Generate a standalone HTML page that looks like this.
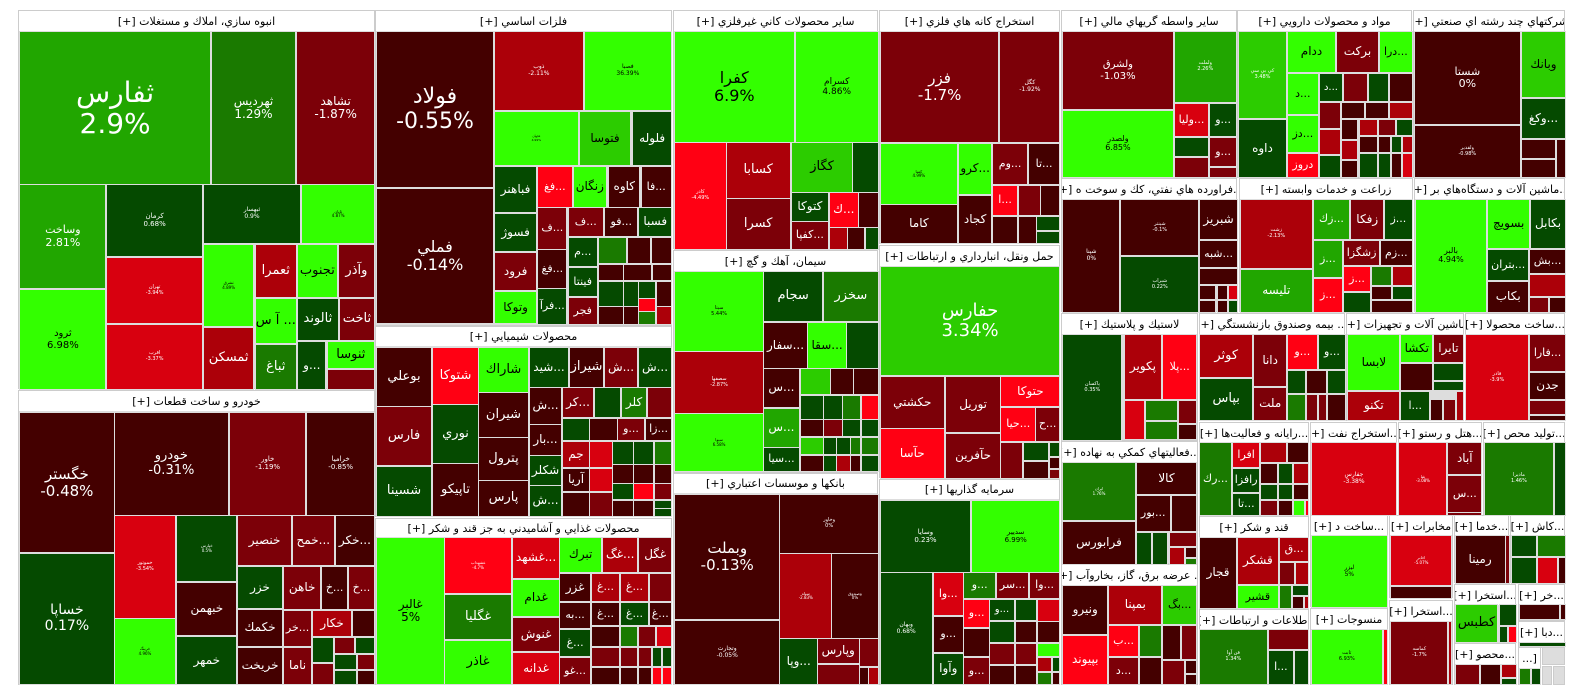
<!DOCTYPE html>
<html><head><meta charset="utf-8">
<style>
html,body{margin:0;padding:0;background:#fff;width:1584px;height:698px;overflow:hidden}
#r{position:relative;width:1584px;height:698px;font-family:"DejaVu Sans","Liberation Sans",sans-serif}
.s{position:absolute;background:#ddd;border:1px solid #ccc;box-sizing:border-box}
.h{position:absolute;background:#fff;color:#000;font-size:11px;display:flex;align-items:center;justify-content:center;white-space:nowrap;overflow:hidden;direction:rtl}
.t{position:absolute;box-sizing:border-box;border:1px solid #ddd;display:flex;align-items:center;justify-content:center;text-align:center;overflow:hidden;white-space:nowrap;line-height:1.12;direction:rtl}
.t>div{display:block}
.t>div>div{display:block}
</style></head><body><div id="r"></div>
<script>
var R=document.getElementById('r');
var C={D:'#440000',M:'#7c0008',R:'#ac0009',B:'#d8000f',F:'#ff0013',G:'#33ff00',L:'#2ccc00',N:'#21a600',K:'#1a7a00',E:'#054a00',W:'#ffffff'};
var MODE='I';
function X(v){if(MODE=='A')return v*1.014;if(MODE=='B')return 530+(v-530)*1.014;if(MODE=='C')return 1050+(v-1050)*1.0217;return v;}
function H(x1,y1,x2,y2,title,hh){hh=hh||21;var d=document.createElement('div');d.className='s';d.style.cssText='left:'+x1+'px;top:'+y1+'px;width:'+(x2-x1+1)+'px;height:'+(y2-y1+1)+'px';R.appendChild(d);
if(title){var h=document.createElement('div');h.className='h';h.style.cssText='left:'+(x1+1)+'px;top:'+(y1+1)+'px;width:'+(x2-x1-1)+'px;height:'+(hh-1)+'px';h.textContent=title;R.appendChild(h);}}
function t(x1,y1,x2,y2,c,label,fs,tc){var a=X(x1),b=X(x2);var d=document.createElement('div');d.className='t';
d.style.left=a+'px';d.style.top=y1+'px';d.style.width=(b-a+2)+'px';d.style.height=(y2-y1+2)+'px';d.style.background=C[c];
d.style.color=tc||((c=='G'||c=='L')?'#000':'#fff');d.style.fontSize=(fs||12)+'px';
if(label){var p=label.split('|');d.innerHTML='<div>'+p.map(function(s){return /%/.test(s)?'<div dir="ltr">'+s+'</div>':'<div>'+s+'</div>';}).join('')+'</div>';}R.appendChild(d);}
MODE='I';
H(18,10,374,388,'انبوه سازي، املاك و مستغلات [+]');
H(18,390,374,684,'خودرو و ساخت قطعات [+]');
H(375,10,671,325,'فلزات اساسي [+]');
H(375,326,671,516,'محصولات شيميايي [+]',20);
H(375,518,671,684,'محصولات غذايي و آشاميدني به جز قند و شكر [+]',19);
H(673,10,877,248,'ساير محصولات كاني غيرفلزي [+]');
H(673,250,877,472,'سيمان، آهك و گچ [+]');
H(673,473,877,684,'بانكها و موسسات اعتباري [+]',20);
H(879,10,1059,243,'استخراج كانه هاي فلزي [+]');
H(879,245,1059,477,'حمل ونقل، انبارداري و ارتباطات [+]');
H(879,479,1059,684,'سرمايه گذاريها [+]',20);
H(1061,10,1236,177,'ساير واسطه گريهاي مالي [+]');
H(1237,10,1411,177,'مواد و محصولات دارويي [+]');
H(1413,10,1564,177,'شركتهاي چند رشته اي صنعتي [+]');
H(1061,178,1236,311,'...فراورده هاي نفتي، كك و سوخت ه [+]');
H(1239,178,1412,311,'زراعت و خدمات وابسته [+]');
H(1414,178,1564,311,'...ماشين آلات و دستگاه‌هاي بر [+]');
H(1061,313,1197,440,'لاستيك و پلاستيك [+]');
H(1199,313,1344,420,'... بيمه وصندوق بازنشستگي [+]');
H(1346,313,1463,420,'ماشين آلات و تجهيزات [+]');
H(1465,313,1564,420,'...ساخت محصولا [+]');
H(1061,441,1197,563,'...فعاليتهاي كمكي به نهاده [+]');
H(1061,564,1197,684,'... عرضه برق، گاز، بخاروآب [+]');
H(1199,422,1308,514,'...رايانه و فعاليت‌ها [+]');
H(1310,422,1396,514,'...استخراج نفت [+]');
H(1398,422,1481,514,'...هتل و رستو [+]');
H(1483,422,1564,514,'...توليد محص [+]');
H(1199,516,1308,607,'قند و شكر [+]');
H(1199,609,1308,684,'اطلاعات و ارتباطات [+]');
H(1310,515,1387,606,'...ساخت د [+]');
H(1310,608,1387,684,'منسوجات [+]');
H(1389,515,1452,597,'مخابرات [+]');
H(1389,600,1452,684,'...استخرا [+]');
H(1454,515,1508,582,'...خدما [+]');
H(1510,515,1564,582,'...كاش [+]');
H(1454,584,1515,643,'...استخرا [+]');
H(1518,584,1564,620,'...خر [+]');
H(1518,621,1564,647,'...دبا [+]');
H(1454,643,1515,684,'...محصو [+]');
H(1518,647,1540,684,'[...');
H(1542,647,1564,664,'');H(1542,666,1551,684,'');H(1553,666,1564,684,'');
MODE='A';
t(19,31,206,183,'N','ثفارس|2.9%',28);
t(208,31,290,183,'K','ثهرديس|1.29%',12);
t(292,31,368,183,'M','تشاهد|-1.87%',12);
t(19,184,103,287,'N','وساخت|2.81%',11);
t(19,289,103,388,'G','ثرود|6.98%',10);
t(105,184,198,255,'E','كرمان|0.68%',7);
t(105,257,198,322,'B','تهران|-3.94%',5);
t(105,324,198,388,'B','اقرب|-3.37%',5);
t(200,184,295,242,'E','ثبهسار|0.9%',6);
t(297,184,368,242,'G','ثابان|4.87%',4);
t(200,244,249,325,'G','ثشرق|4.89%',4);
t(200,327,249,388,'R','ثمسكن',13);
t(251,244,291,296,'R','ثعمرا',13);
t(293,244,331,296,'G','تجنوب',13);
t(333,244,368,296,'M','وآذر',13);
t(251,298,291,342,'G','... آ س',13);
t(293,298,332,339,'E','ثالوند',13);
t(334,298,368,339,'M','ثاخت',13);
t(251,344,291,388,'K','ثباغ',13);
t(293,341,320,388,'E','...و',12);
t(322,341,368,367,'G','ثنوسا',13);
t(322,369,368,388,'M','');
t(19,412,111,551,'D','خگستر|-0.48%',15);
t(19,553,111,683,'E','خساپا|0.17%',14);
t(112,412,224,514,'D','خودرو|-0.31%',13);
t(226,412,300,514,'M','خاور|-1.19%',7);
t(302,412,368,514,'D','خراميا|-0.85%',7);
t(112,515,172,617,'B','خموتور|-3.54%',5);
t(112,618,172,683,'G','خرينگ|4.96%',4);
t(174,515,232,580,'E','خپارس|0.5%',4);
t(174,582,232,634,'D','خبهمن',12);
t(174,636,232,683,'E','خمهر',12);
t(234,515,286,564,'M','خنصير',12);
t(288,515,328,564,'M','...خمح',12);
t(330,515,368,564,'D','...خكر',12);
t(234,566,277,607,'E','خزر',12);
t(279,566,315,608,'M','خاهن',12);
t(317,566,341,608,'D','...خ',11);
t(343,566,368,608,'M','...خ',11);
t(234,609,277,645,'D','خكمك',12);
t(279,610,306,645,'M','...خر',11);
t(308,610,345,635,'R','خكار',12);
t(347,610,368,635,'D','');
t(234,647,277,683,'D','خريخت',12);
t(279,647,306,683,'M','ناما',12);
t(308,637,327,661,'E','');t(329,637,348,652,'M','');t(350,637,368,652,'E','');
t(308,663,327,683,'M','');t(329,654,350,668,'E','');t(352,654,368,668,'M','');
t(329,670,350,683,'E','');t(352,670,368,683,'D','');
t(371,31,485,186,'D','فولاد|-0.55%',22);
t(371,188,485,322,'D','فملي|-0.14%',16);
t(487,166,528,211,'E','فباهنر',12);
t(487,213,528,250,'E','فسوژ',12);
t(487,252,528,289,'M','فرود',12);
t(487,291,528,322,'G','وتوكا',12);
MODE='B';
t(494.5,31,581,109,'R','ذوب|-2.11%',6);
t(583,31,668,109,'G','فصبا|36.39%',6);
t(494.5,111,576,164,'G','فجهان|4.99%',3);
t(578,111,628,164,'L','فتوسا',12);
t(631,111,668,164,'E','فلوله',12);
t(537,166,570,206,'F','...فغ',11);
t(572,166,604,206,'G','زنگان',12);
t(607,166,637,206,'D','كاوه',12);
t(639,166,668,206,'D','...فا',11);
t(537,207,565,248,'M','...ف',11);
t(567,207,601,235,'M','...ف',11);
t(603,207,635,235,'D','...فو',11);
t(637,207,668,235,'E','فسبا',12);
t(537,249,565,287,'D','...فغ',11);
t(537,288,565,323,'E','...فرآ',11);
t(567,237,595,265,'E','...م',11);
t(567,267,595,295,'E','فينتا',11);
t(567,297,595,323,'M','فجر',11);
t(597,237,624,262,'K','');t(626,237,647,262,'D','');t(649,237,668,262,'D','');
t(597,264,621,279,'D','');t(622,264,648,279,'D','');t(650,264,668,279,'D','');
t(597,281,621,305,'E','');t(622,281,636,305,'E','');t(637,281,652,297,'E','');t(654,281,668,305,'D','');
t(637,298,652,310,'F','');
t(597,306,621,323,'D','');t(622,306,636,323,'D','');t(637,311,652,323,'K','');t(654,306,668,323,'R','');
MODE='I';
t(376,347,430,405,'D','بوعلي',13);
t(376,406,430,464,'M','فارس',13);
t(376,466,430,515,'E','شسينا',13);
t(432,347,477,403,'F','شتوكا',13);
t(432,404,477,462,'E','نوري',13);
t(432,463,477,515,'D','تاپيكو',13);
t(478,347,527,391,'G','شاراك',13);
t(478,392,527,436,'D','شيران',13);
t(478,437,527,479,'D','پترول',13);
t(478,480,527,515,'D','پارس',13);
t(529,347,567,386,'E','...شيد',12);
t(569,347,602,386,'D','شيراز',13);
t(604,347,636,386,'M','...ش',12);
t(638,347,670,386,'E','...ش',12);
t(529,387,560,423,'D','...ش',12);
t(529,424,560,454,'D','...بار',12);
t(529,455,560,484,'E','شكلر',12);
t(529,485,560,515,'E','...ش',12);
t(562,387,592,416,'M','...كر',12);
t(594,387,619,416,'E','');
t(621,387,645,416,'K','كلر',12);
t(647,387,670,416,'M','');
t(562,418,588,439,'E','');t(589,418,616,439,'D','');
t(617,418,643,439,'M','...و',11);t(645,418,670,439,'D','...زا',11);
t(562,441,588,466,'R','جم',12);t(562,468,588,490,'D','آريا',12);t(562,492,588,515,'D','');
t(589,441,611,466,'B','');t(589,468,611,490,'B','');t(589,492,611,515,'M','');
t(612,441,632,463,'E','');t(633,441,652,463,'E','');t(654,441,670,463,'K','');
t(612,464,632,482,'D','');t(633,464,652,482,'D','');t(654,464,670,482,'D','');
t(612,483,632,498,'E','');t(633,483,652,498,'F','');t(654,483,670,498,'M','');
t(612,500,632,515,'D','');t(633,500,652,515,'D','');t(654,500,670,507,'E','');t(654,508,670,515,'E','');
MODE='A';
t(371,537,437,683,'G','غالبر|5%',12);
t(438,537,503,592,'F','غشهداب|-4.7%',4);
t(438,594,503,638,'K','غگليا',13);
t(438,640,503,683,'G','غاذر',13);
MODE='B';
t(512,537,558,577,'B','...غشهد',12);
t(512,579,558,615,'G','غدام',12);
t(512,617,558,650,'M','غنوش',12);
t(512,652,558,683,'B','غدانه',12);
t(559,537,599,571,'G','تبرك',12);
t(601,537,635,571,'R','...غگ',12);
t(637,537,668,571,'M','غگل',12);
t(559,573,588,600,'D','غزر',12);
t(590,573,617,600,'R','...غ',11);t(619,573,645,600,'R','...غ',11);t(647,573,668,600,'M','');
t(559,602,588,627,'D','...به',11);t(590,602,617,624,'D','...غ',11);t(619,602,645,624,'E','...غ',11);t(647,602,668,624,'D','...غ',11);
t(559,629,588,655,'E','...غ',11);t(590,626,617,645,'D','');t(619,626,635,645,'K','');t(637,626,652,645,'M','');t(654,626,668,645,'B','');
t(559,657,588,683,'M','...غو',11);t(590,647,617,665,'M','');t(619,647,635,665,'M','');t(637,647,648,665,'M','');t(650,647,658,665,'E','');t(660,647,668,665,'E','');
t(590,667,617,683,'D','');t(619,667,635,683,'D','');t(637,667,648,683,'D','');t(650,667,658,683,'F','');t(660,667,668,683,'F','');
t(672,31,789,141,'G','كفرا|6.9%',16);
t(791,31,872,141,'G','كسرام|4.86%',9);
t(672,142,722,248,'F','كاذر|-4.49%',5);
t(723,142,785,197,'R','كسابا',13);
t(723,198,785,248,'M','كسرا',13);
t(787,142,847,191,'L','كگاز',13);
t(848,142,872,191,'E','');
t(787,192,823,220,'E','كتوكا',12);
t(825,192,852,226,'F','...ك',12);
t(853,192,872,226,'D','');
t(787,221,823,248,'M','...كفپا',11);
t(825,227,842,248,'R','');t(843,227,858,248,'D','');t(860,227,872,248,'E','');
t(875,31,991,141,'M','فزر|-1.7%',15);
t(993,31,1051,141,'M','كگل|-1.92%',6);
t(875,143,950,203,'G','كمنا|4.99%',4);
t(952,143,984,193,'G','...كرو',12);
t(986,143,1019,183,'M','...وم',11);
t(1021,143,1051,183,'D','...تا',11);
t(986,185,1009,214,'F','...ا',11);t(1011,185,1032,214,'M','');t(1033,185,1051,214,'D','');
t(875,204,950,242,'D','كاما',12);
t(952,195,984,242,'D','كجاد',12);
t(986,216,1009,242,'D','');t(1011,216,1028,242,'D','');t(1029,216,1051,229,'E','');t(1029,231,1051,242,'E','');
t(875,266,1051,374,'L','حفارس|3.34%',18,'#fff');
t(875,376,937,427,'M','حكشتي',12);
t(939,376,993,431,'M','توريل',12);
t(994,376,1051,405,'F','حتوكا',12);
t(875,428,937,477,'F','حآسا',12);
t(939,433,993,477,'M','حآفرين',12);
t(994,407,1027,440,'F','...حيا',11);
t(1028,407,1051,440,'M','...ح',11);
t(994,442,1014,477,'M','');t(1016,442,1040,459,'E','');t(1042,442,1051,455,'E','');
t(1016,461,1040,477,'D','');t(1042,457,1051,467,'D','');t(1042,469,1051,477,'M','');
t(875,500,963,571,'E','وسايا|0.23%',7);
t(965,500,1051,571,'G','سديير|6.99%',7);
t(875,572,925,683,'E','وبهان|0.68%',6);
t(927,572,956,614,'B','...وا',11);
t(957,572,988,597,'K','...و',11);t(990,572,1020,597,'M','...سر',11);t(1022,572,1051,597,'M','...وا',11);
t(957,599,982,626,'F','...و',11);t(983,599,1006,619,'E','...و',10);t(1008,599,1028,619,'E','');t(1030,599,1051,620,'B','');
t(927,616,956,651,'D','...و',11);
t(957,628,982,655,'D','');t(983,621,1006,641,'E','');t(1008,621,1028,641,'D','');t(1030,621,1051,641,'D','');
t(927,653,956,683,'E','وآوا',12);
t(957,657,982,683,'M','...و',11);t(983,643,1006,663,'M','');t(1008,643,1028,663,'M','');t(1030,643,1051,655,'G','');
t(1030,657,1043,670,'R','');t(1045,657,1051,670,'E','');t(1030,672,1043,683,'K','');t(1045,672,1051,683,'D','');
t(983,665,1006,683,'D','');t(1008,665,1028,683,'D','');
t(672,271,759,350,'G','سيتا|5.44%',5);
t(672,351,759,412,'R','سصفها|-2.87%',5);
t(672,413,759,470,'G','سيوا|6.58%',4);
t(760,271,817,320,'E','سجام',13);
t(819,271,872,320,'K','سخزر',13);
t(760,322,802,367,'D','...سفار',12);
t(803,322,841,367,'G','...سقا',12);
t(842,322,872,367,'E','');
t(760,368,794,406,'D','...س',12);
t(760,408,794,446,'N','...س',12);
t(760,447,794,470,'E','...سيا',11);
t(796,368,825,393,'L','');t(826,368,848,393,'D','');t(849,368,872,393,'D','');
t(796,395,818,418,'E','');t(819,395,837,418,'E','');t(838,395,854,418,'K','');t(856,395,872,418,'F','');
t(796,419,818,435,'D','');t(819,419,837,435,'M','');t(838,419,854,435,'E','');t(856,419,872,435,'E','');
t(796,437,818,453,'L','');t(819,437,831,453,'E','');t(832,437,845,453,'E','');t(846,437,854,453,'K','');t(856,437,872,453,'K','');
t(796,455,818,470,'D','');t(819,455,831,470,'E','');t(832,455,845,470,'R','');t(846,455,854,470,'D','');t(856,455,872,470,'E','');
t(672,494,775,618,'D','وبملت|-0.13%',15);
t(672,620,775,683,'D','وتجارت|-0.05%',6);
t(776,494,872,552,'D','وخاور|0%',5);
t(776,553,826,637,'R','سپاه|-2.83%',4);
t(827,553,872,637,'D','وصندوق|0%',4);
t(776,638,812,683,'E','...وپا',12);
t(813,638,853,662,'M','وپارس',12);
t(854,638,872,665,'M','');t(813,664,853,683,'M','');t(854,667,862,683,'D','');t(863,667,872,683,'R','');
MODE='C';
t(1062,31,1169,108,'M','ولشرق|-1.03%',10);
t(1171,31,1231,101,'N','ولملت|2.26%',5);
t(1062,110,1169,176,'G','ولصدر|6.85%',8);
t(1171,103,1204,135,'B','...وليا',11);
t(1206,103,1231,135,'E','...و',11);
t(1171,137,1204,155,'E','');
t(1206,137,1231,165,'M','...و',11);
t(1171,157,1204,176,'M','');t(1206,167,1231,176,'M','');
t(1234,31,1280,117,'L','كي بي سي|3.48%',5,'#fff');
t(1234,119,1280,176,'E','داوه',12);
t(1282,31,1328,71,'G','ددام',12);
t(1330,31,1370,71,'M','بركت',12);
t(1372,31,1403,71,'G','...درا',11);
t(1282,73,1311,113,'G','...د',11);
t(1313,73,1335,100,'E','...د',10);
t(1337,73,1359,100,'M','');t(1361,73,1380,100,'E','');t(1382,73,1403,100,'D','');
t(1282,115,1311,151,'G','...دز',11);
t(1282,153,1311,176,'F','دروز',11);
t(1313,102,1333,127,'M','');t(1335,102,1356,117,'D','');t(1358,102,1380,117,'D','');t(1382,102,1403,117,'R','');
t(1313,129,1333,153,'R','');t(1335,119,1350,138,'D','');t(1352,119,1369,134,'R','');t(1371,119,1387,134,'M','');t(1389,119,1403,134,'E','');
t(1335,140,1350,158,'R','');t(1352,136,1369,151,'D','');t(1371,136,1382,151,'D','');t(1384,136,1393,151,'E','');t(1395,136,1403,151,'R','');
t(1313,155,1333,176,'E','');t(1335,160,1350,176,'D','');t(1352,153,1369,176,'E','');t(1371,153,1382,176,'E','');t(1384,153,1393,176,'D','');t(1395,153,1403,176,'B','');
t(1406,31,1509,123,'D','شستا|0%',11);
t(1511,31,1553,96,'L','وبانك',12);
t(1511,98,1553,137,'E','...وكغ',12);
t(1406,125,1509,176,'D','ولقدير|-0.98%',5);
t(1511,139,1543,157,'D','');t(1545,139,1553,176,'D','');t(1511,159,1543,176,'D','');
t(1062,199,1117,311,'D','شپنا|0%',6);
t(1119,199,1194,254,'D','شپنتر|-0.1%',5);
t(1119,256,1194,311,'E','شبراب|0.22%',5);
t(1196,199,1232,238,'D','شبريز',12);
t(1196,240,1232,266,'D','...شبه',11);
t(1196,268,1232,283,'D','');t(1196,285,1211,298,'D','');t(1213,285,1222,298,'D','');t(1224,285,1232,298,'B','');
t(1196,300,1211,311,'D','');t(1213,300,1222,311,'D','');t(1224,300,1232,311,'E','');
t(1236,199,1305,267,'R','زشت|-2.13%',5);
t(1236,269,1305,311,'N','تليسه',12);
t(1307,199,1342,238,'N','...زك',11);
t(1344,199,1375,238,'M','زفكا',12);
t(1377,199,1403,238,'E','...ز',11);
t(1307,240,1335,276,'N','...ز',11);
t(1337,240,1371,264,'M','زشگزا',11);
t(1373,240,1403,264,'D','...زم',11);
t(1337,266,1362,290,'F','...ز',11);t(1364,266,1383,284,'K','');t(1385,266,1403,284,'R','');
t(1307,278,1335,311,'F','...ز',11);
t(1337,292,1362,311,'E','');t(1364,286,1383,298,'D','');t(1385,286,1403,298,'E','');t(1364,300,1403,311,'D','');
t(1407,199,1476,311,'G','بالبر|4.94%',8);
t(1478,199,1518,247,'G','بسويچ',12);
t(1520,199,1553,247,'E','بكابل',12);
t(1478,249,1517,279,'E','...بتران',11);
t(1519,249,1553,272,'D','...بش',11);
t(1478,281,1517,311,'D','بكاب',12);
t(1519,274,1553,295,'R','');t(1519,297,1536,311,'M','');t(1538,297,1553,311,'D','');
t(1062,334,1119,439,'E','پاكسان|0.35%',5);
t(1122,334,1158,398,'R','پكوير',12);
t(1160,334,1192,398,'F','...پلا',11);
t(1122,400,1141,438,'B','');t(1143,400,1173,419,'K','');t(1143,421,1173,438,'K','');t(1175,400,1192,422,'M','');t(1175,424,1192,438,'D','');
t(1196,334,1247,376,'R','كوثر',13);
t(1196,378,1247,419,'E','بپاس',13);
t(1249,334,1280,385,'M','دانا',12);
t(1249,387,1280,419,'M','ملت',12);
t(1282,334,1310,368,'F','...و',11);
t(1312,334,1338,368,'E','...و',11);
t(1282,370,1299,392,'E','');t(1301,370,1319,392,'D','');t(1321,370,1338,392,'E','');
t(1282,394,1299,419,'K','');t(1301,394,1310,419,'M','');t(1312,394,1319,419,'M','');t(1321,394,1338,419,'D','');
t(1341,334,1391,389,'G','لابسا',12);
t(1393,334,1423,361,'G','تكشا',12);
t(1425,334,1453,361,'M','تايرا',12);
t(1341,391,1391,419,'R','تكنو',12);
t(1393,363,1423,389,'D','');t(1425,363,1453,379,'E','');t(1425,381,1453,389,'E','');
t(1393,391,1420,419,'E','...ا',11);t(1422,399,1433,419,'D','');t(1435,399,1445,419,'M','');t(1447,391,1453,419,'R','');
t(1456,334,1517,419,'B','فاذر|-3.9%',5);
t(1519,334,1553,370,'M','...فارا',11);
t(1519,372,1553,398,'D','جدن',12);
t(1519,400,1553,413,'M','');t(1519,415,1553,419,'D','');
t(1062,462,1132,519,'K','ايران|1.76%',4);
t(1134,462,1192,493,'D','كالا',12);
t(1134,495,1166,530,'D','...بور',11);
t(1168,495,1192,530,'D','');
t(1062,521,1132,563,'D','فرابورس',12);
t(1134,532,1148,563,'E','');t(1150,532,1164,563,'E','');t(1166,532,1192,545,'M','');
t(1166,547,1180,563,'R','');t(1182,547,1192,556,'D','');t(1182,558,1192,563,'K','');
t(1062,585,1105,633,'D','ونيرو',12);
t(1062,635,1105,683,'F','بپيوند',12);
t(1107,585,1158,623,'R','بمپنا',12);
t(1160,585,1192,623,'L','...بگ',11);
t(1107,625,1135,655,'F','...ب',11);
t(1137,625,1158,655,'K','');
t(1107,657,1135,683,'M','...د',11);
t(1137,657,1158,683,'D','');
t(1160,625,1176,658,'D','');t(1178,625,1192,658,'M','');t(1160,660,1180,683,'M','');t(1182,660,1192,672,'D','');t(1182,674,1192,683,'D','');
t(1196,442,1226,514,'K','...رك',11);
t(1228,442,1254,466,'B','افرا',11);
t(1228,468,1254,491,'E','رافزا',11);
t(1228,493,1254,514,'E','...تا',11);
t(1256,442,1280,461,'R','');t(1282,442,1302,461,'D','');
t(1256,463,1271,482,'D','');t(1273,463,1286,482,'E','');t(1288,463,1302,482,'R','');
t(1256,484,1271,498,'E','');t(1273,484,1286,498,'E','');t(1288,484,1302,498,'D','');
t(1256,500,1271,514,'M','');t(1273,500,1286,514,'D','');t(1288,500,1298,514,'G','');t(1300,500,1302,514,'F','');
t(1305,442,1388,514,'B','جفارس|-3.38%',6);
t(1391,442,1437,514,'B','غنا|-3.08%',4);
t(1439,442,1471,473,'M','آباد',12);
t(1439,475,1471,511,'M','...س',11);
t(1439,512,1471,514,'M','');
t(1475,442,1541,514,'K','ماديرا|1.46%',5);
t(1543,442,1553,514,'E','');
t(1196,537,1231,607,'D','قجار',12);
t(1233,537,1272,583,'R','قشكر',12);
t(1274,537,1302,560,'R','...ق',11);
t(1233,585,1272,607,'G','قشير',11);
t(1274,562,1288,583,'M','');t(1290,562,1302,583,'R','');
t(1274,585,1285,607,'K','');t(1287,585,1302,594,'E','');t(1287,596,1297,607,'D','');t(1299,596,1302,607,'R','');
t(1196,629,1261,683,'K','فن آوا|1.34%',5);
t(1263,629,1302,648,'M','');
t(1263,650,1287,683,'E','...ا',11);t(1289,650,1302,683,'E','');
t(1305,535,1379,606,'G','ليزر|5%',6);
t(1305,629,1374,683,'G','ثابت|6.93%',5);
t(1376,629,1379,683,'F','');
t(1383,535,1442,584,'B','اخابر|-5.07%',4);
t(1383,586,1442,597,'D','');
t(1383,621,1438,683,'M','كماسه|-1.7%',5);
t(1440,621,1442,683,'R','');
t(1446,535,1494,582,'D','رمينا',12);
t(1495,535,1498,582,'M','');
t(1501,535,1525,555,'E','');t(1527,535,1553,555,'K','');
t(1501,557,1525,582,'E','');t(1527,557,1545,582,'B','');t(1547,557,1553,582,'D','');
t(1446,604,1487,641,'L','كطبس',13);
t(1489,604,1505,624,'E','');t(1489,626,1496,641,'E','');t(1498,626,1505,641,'F','');
t(1509,604,1547,618,'D','');t(1549,604,1553,618,'D','');
t(1509,642,1553,645,'E','');
t(1446,664,1469,683,'M','');t(1471,664,1489,683,'D','');t(1491,664,1505,676,'R','');t(1491,678,1505,683,'E','');
t(1509,668,1519,683,'K','');t(1521,668,1529,683,'E','');
</script>
</body></html>
